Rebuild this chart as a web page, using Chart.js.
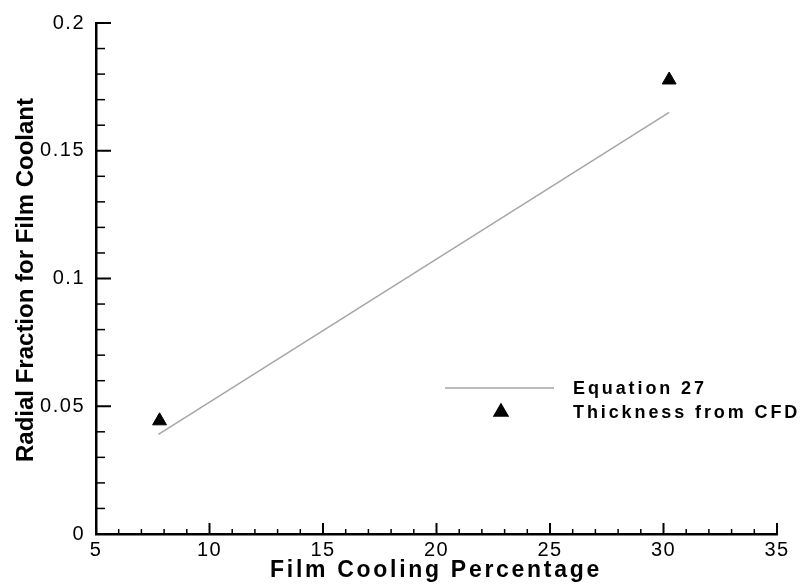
<!DOCTYPE html>
<html>
<head>
<meta charset="utf-8">
<script src="https://cdn.jsdelivr.net/npm/chart.js@4/dist/chart.umd.min.js"></script>
<style>
  html, body { margin: 0; padding: 0; background: #fff; }
  #wrap { width: 804px; height: 588px; }
</style>
</head>
<body>
<div id="wrap"><canvas id="grafica"></canvas></div>
<script>
// datos
const ecuacionX = [7.75, 30.25];
const ecuacionY = [0.039, 0.165];
const cfdX = [7.8, 30.25];
const cfdY = [0.0443, 0.1777];

const xTicks = [5, 10, 15, 20, 25, 30, 35];
const yTicks = [0, 0.05, 0.1, 0.15, 0.2];
const xMinor = [6, 7, 8, 9, 11, 12, 13, 14, 16, 17, 18, 19, 21, 22, 23, 24, 26, 27, 28, 29, 31, 32, 33, 34];
const yMinor = [0.01, 0.02, 0.03, 0.04, 0.06, 0.07, 0.08, 0.09, 0.11, 0.12, 0.13, 0.14, 0.16, 0.17, 0.18, 0.19];

const etiquetas = ['Equation 27', 'Thickness from CFD'];
const tituloX = 'Film Cooling Percentage';
const tituloY = 'Radial Fraction for Film Coolant';

const FUENTE = "'Liberation Sans', Arial, Helvetica, sans-serif";

// marcas hacia adentro, titulos y leyenda
const extras = {
    id: 'extras',
    beforeDraw(chart) {
        chart.ctx.letterSpacing = '1.5px';
    },
    afterDraw(chart) {
        const ctx = chart.ctx;
        const x = chart.scales.x, y = chart.scales.y;
        const area = chart.chartArea;
        ctx.save();
        ctx.strokeStyle = '#000';
        ctx.lineCap = 'butt';

        // ticks eje x
        xTicks.forEach(v => {
            const px = x.getPixelForValue(v);
            ctx.lineWidth = 2;
            ctx.beginPath(); ctx.moveTo(px, area.bottom); ctx.lineTo(px, area.bottom - 11); ctx.stroke();
        });
        xMinor.forEach(v => {
            const px = x.getPixelForValue(v);
            ctx.lineWidth = 1.5;
            ctx.beginPath(); ctx.moveTo(px, area.bottom); ctx.lineTo(px, area.bottom - 5); ctx.stroke();
        });
        // ticks eje y
        yTicks.forEach(v => {
            const py = y.getPixelForValue(v);
            ctx.lineWidth = 2;
            ctx.beginPath(); ctx.moveTo(area.left, py); ctx.lineTo(area.left + 15, py); ctx.stroke();
        });
        yMinor.forEach(v => {
            const py = y.getPixelForValue(v);
            ctx.lineWidth = 1.5;
            ctx.beginPath(); ctx.moveTo(area.left, py); ctx.lineTo(area.left + 9, py); ctx.stroke();
        });

        // titulos
        ctx.fillStyle = '#000';
        ctx.font = 'bold 23px ' + FUENTE;
        ctx.letterSpacing = '2.7px';
        ctx.textAlign = 'center';
        ctx.textBaseline = 'alphabetic';
        ctx.fillText(tituloX, 436, 577);

        ctx.save();
        ctx.translate(33, 280);
        ctx.rotate(-Math.PI / 2);
        ctx.font = 'bold 24px ' + FUENTE;
        ctx.letterSpacing = '0px';
        ctx.fillText(tituloY, 0, 0);
        ctx.restore();

        // leyenda
        const ds0 = chart.data.datasets[0], ds1 = chart.data.datasets[1];
        ctx.strokeStyle = ds0.borderColor;
        ctx.lineWidth = ds0.borderWidth;
        ctx.beginPath(); ctx.moveTo(445, 388); ctx.lineTo(554, 388); ctx.stroke();
        ctx.fillStyle = '#000';
        ctx.strokeStyle = '#000';
        Chart.helpers.drawPoint(ctx, { pointStyle: 'triangle', radius: ds1.pointRadius, rotation: 0, borderWidth: 1 }, 501, 412);

        ctx.font = 'bold 18px ' + FUENTE;
        ctx.letterSpacing = '2.9px';
        ctx.textAlign = 'left';
        ctx.textBaseline = 'middle';
        ctx.fillText(etiquetas[0], 573, 389);
        ctx.fillText(etiquetas[1], 573, 413);
        ctx.restore();
    }
};

const ctx = document.getElementById('grafica').getContext('2d');
new Chart(ctx, {
    type: 'scatter',
    data: {
        datasets: [{
            label: etiquetas[0],
            data: ecuacionX.map((v, i) => ({ x: v, y: ecuacionY[i] })),
            showLine: true,
            borderColor: '#a6a6a6',
            borderWidth: 1.5,
            pointRadius: 0,
            fill: false
        }, {
            label: etiquetas[1],
            data: cfdX.map((v, i) => ({ x: v, y: cfdY[i] })),
            pointStyle: 'triangle',
            pointRadius: 8,
            backgroundColor: '#000',
            borderColor: '#000',
            borderWidth: 1
        }]
    },
    options: {
        responsive: true,
        maintainAspectRatio: false,
        animation: false,
        layout: { padding: { left: 0, right: 27, top: 18, bottom: 0 } },
        plugins: {
            legend: { display: false },
            tooltip: { enabled: false }
        },
        scales: {
            x: {
                type: 'linear',
                min: 5, max: 35,
                afterBuildTicks: s => { s.ticks = xTicks.map(v => ({ value: v })); },
                afterFit: s => { s.height = 54; },
                grid: { display: false, drawTicks: false },
                border: { display: true, color: '#000', width: 2.5 },
                ticks: { color: '#000', padding: 4, maxRotation: 0, font: { size: 20, family: FUENTE } }
            },
            y: {
                type: 'linear',
                min: 0, max: 0.2,
                afterBuildTicks: s => { s.ticks = yTicks.map(v => ({ value: v })); },
                afterFit: s => { s.width = 96; },
                grid: { display: false, drawTicks: false },
                border: { display: true, color: '#000', width: 2.5 },
                ticks: {
                    color: '#000', padding: 11, font: { size: 20, family: FUENTE },
                    callback: v => String(v)
                }
            }
        }
    },
    plugins: [extras]
});
</script>
</body>
</html>
